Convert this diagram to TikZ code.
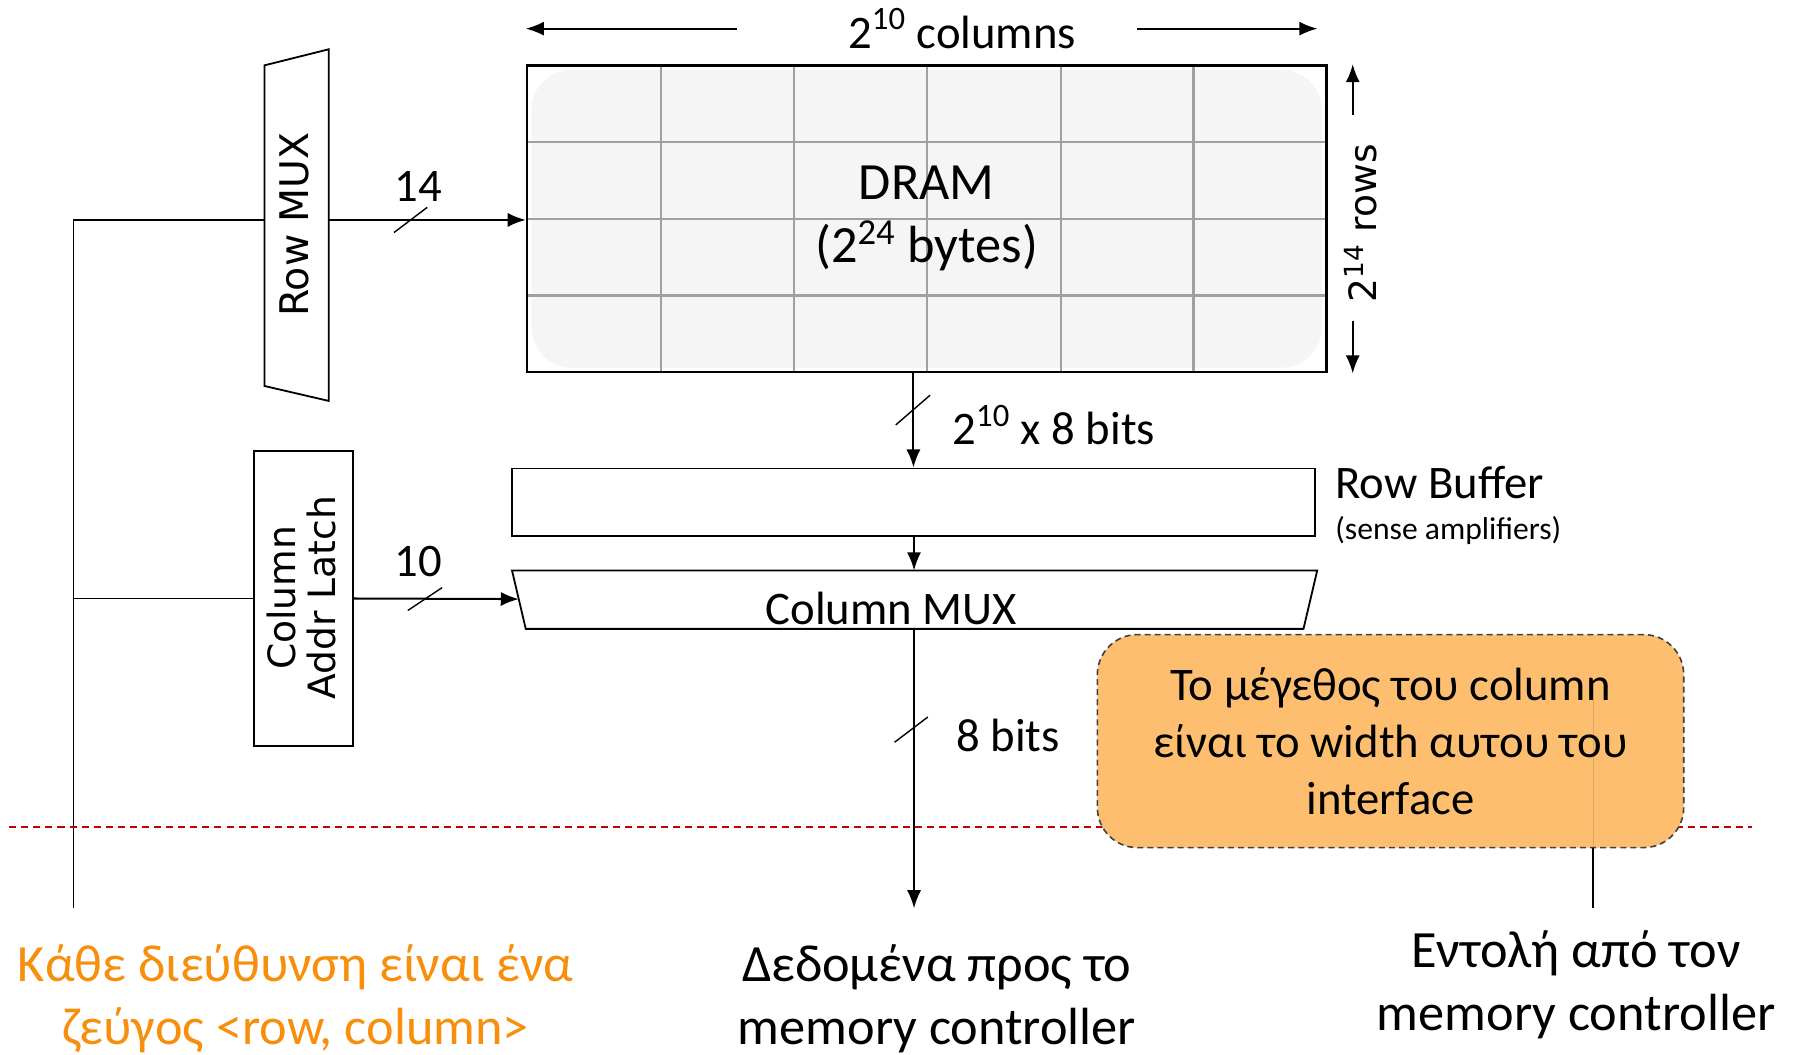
\documentclass[tikz,border=0pt]{standalone}
\usepackage{fontspec}
\setmainfont{Carlito}
\newfontfamily\dvsans{DejaVu Sans}
\usetikzlibrary{arrows.meta}
\definecolor{drOrange}{RGB}{247,143,12}
\definecolor{drNote}{RGB}{253,191,111}
\definecolor{drCell}{RGB}{245,245,245}
\definecolor{drGrid}{RGB}{160,160,160}
\definecolor{drRed}{RGB}{192,0,0}
\tikzset{drblk/.style={draw,line width=0.9pt,inner sep=0pt},
         drarr/.style={line width=1pt,-{Latex[length=9pt,width=7pt]}},
         drbus/.style={line width=0.7pt},
         drlbl/.style={font=\fontsize{23.2}{27.8}\selectfont,inner sep=2pt},
         drsmall/.style={font=\fontsize{15.7}{18}\selectfont,inner sep=2pt},
         drbig/.style={font=\fontsize{26}{31.2}\selectfont,align=center,inner sep=2pt},
         drrot/.style={font=\dvsans\fontsize{19.6}{19.8}\selectfont,rotate=90,align=center,inner sep=0pt},
         drnote/.style={draw=black!75,dash pattern=on 3pt off 2pt,fill=drNote,rounded corners=0.7cm,
                        line width=0.8pt,align=center,font=\fontsize{23.2}{28.3}\selectfont}}
\begin{document}
\begin{tikzpicture}[x=0.02cm,y=-0.02cm]
  \useasboundingbox (0,0) rectangle (1568,921);
  % memory array
  \fill[drCell,rounded corners=0.7cm] (464,61) rectangle (1154,321);
  \foreach \x in {577,693,809,926,1042} \draw[drGrid,line width=1.1pt] (\x,57) -- (\x,325);
  \foreach \y in {124,191,258} \draw[drGrid,line width=1.1pt] (460,\y) -- (1158,\y);
  \node[drblk,line width=1.2pt,minimum width=13.96cm,minimum height=5.36cm,drbig] (dram) at (809,191) {DRAM\\(2\textsuperscript{24} bytes)};
  \node[drlbl] (cols) at (840,25) {2\textsuperscript{10} columns};
  \coordinate (colsL) at (643,25); \coordinate (colsR) at (993,25);
  \draw[drarr] (colsL) -- (colsL -| dram.west);
  \draw[drarr] (colsR) -- ([xshift=-5]colsR -| dram.east);
  \node[drrot,font=\dvsans\fontsize{18.7}{19.8}\selectfont] (rows) at (1188,195) {2\textsuperscript{14} rows};
  \coordinate (rowsU) at (1181,100); \coordinate (rowsD) at (1181,280);
  \draw[drarr] (rowsU) -- (rowsU |- dram.north);
  \draw[drarr] (rowsD) -- (rowsD |- dram.south);
  % row address path
  \draw[drblk] (231,57) -- (287,43) -- (287,350) -- (231,337) -- cycle;
  \node[drrot] (rowmux) at (257,196) {Row MUX};
  \coordinate (rowmuxW) at (231,192); \coordinate (rowmuxE) at (287,192);
  \coordinate (addrTop) at (64,192); \coordinate (addrBot) at (64,793);
  \draw[drbus] (addrBot) -- (addrTop) -- (rowmuxW);
  \draw[drarr] (rowmuxE) -- (rowmuxE -| dram.west);
  \draw[drbus] (344,203) -- (373,181);
  \node[drlbl] (rowbits) at (365,163) {14};
  % column address path
  \node[drblk,minimum width=1.72cm,minimum height=5.14cm] (latch) at (265,522.5) {};
  \node[drrot,font=\dvsans\fontsize{18.7}{19.8}\selectfont] (latchtxt) at (263,522) {Column\\Addr Latch};
  \coordinate (cmuxW) at (453,523);
  \draw[drbus] (addrTop |- latch.west) -- (latch.west);
  \draw[drarr] (latch.east) -- (cmuxW);
  \draw[drbus] (356,533) -- (386,513);
  \node[drlbl] (colbits) at (365,490) {10};
  % row buffer and column mux
  \node[drblk,minimum width=14.02cm,minimum height=1.18cm] (rowbuf) at (797.5,438.5) {};
  \draw[drarr] (rowbuf.north |- dram.south) -- (rowbuf.north);
  \draw[drbus] (782,371) -- (812,345);
  \node[drlbl] (rowwidth) at (920,371) {2\textsuperscript{10} x 8 bits};
  \node[drlbl,anchor=west] (rowbuftxt) at (1162,421) {Row Buffer};
  \node[drsmall,anchor=west] (senseamp) at (1162,463) {(sense amplifiers)};
  \draw[drblk] (447,498) -- (1150,498) -- (1138,549) -- (459,549) -- cycle;
  \node[drlbl] (cmux) at (778,531) {Column MUX};
  \coordinate (cmuxN) at (798,498); \coordinate (cmuxS) at (798,549);
  \draw[drarr] (rowbuf.south -| cmuxN) -- (cmuxN);
  % data out
  \coordinate (dataBot) at (798,793);
  \draw[drarr] (cmuxS) -- (dataBot);
  \draw[drbus] (781,648) -- (810,626);
  \node[drlbl] (databits) at (880,642) {8 bits};
  % interface boundary
  \draw[drRed,line width=1.1pt,dash pattern=on 3.5pt off 2.5pt] (8,722) -- (1530,722);
  \node[drnote,minimum width=10.24cm,minimum height=3.72cm] (note) at (1214,647)
    {Το μέγεθος του column\\είναι το width αυτου του\\interface};
  \coordinate (cmdTop) at (1391,611); \coordinate (cmdBot) at (1391,793);
  \draw[drbus,draw opacity=0.12] (cmdTop) -- (cmdTop |- note.south);
  \draw[drbus,line width=0.8pt] (cmdTop |- note.south) -- (cmdBot);
  % bottom texts
  \node[drbig,text=drOrange] (addrtxt) at (258,872) {Κάθε διεύθυνση είναι ένα\\ζεύγος <row, column>};
  \node[drbig] (datatxt) at (818,872) {Δεδομένα προς το\\memory controller};
  \node[drbig] (cmdtxt) at (1376,860) {Εντολή από τον\\memory controller};
\end{tikzpicture}
\end{document}
